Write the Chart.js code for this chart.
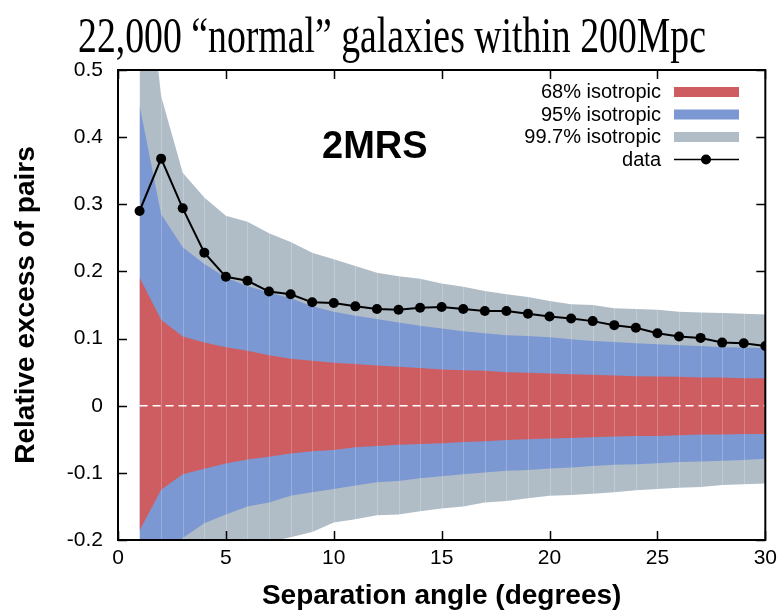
<!DOCTYPE html>
<html>
<head>
<meta charset="utf-8">
<script src="https://cdn.jsdelivr.net/npm/chart.js@4.4.1/dist/chart.umd.min.js"></script>
<style>
  html, body { margin: 0; padding: 0; background: #fff; }
</style>
</head>
<body>
<canvas id="pairChart" width="783" height="613"></canvas>
<script>
// Separation angles (degrees)
const angles = [1, 2, 3, 4, 5, 6, 7, 8, 9, 10, 11, 12, 13, 14, 15, 16, 17, 18, 19, 20,
                21, 22, 23, 24, 25, 26, 27, 28, 29, 30];

// Measured relative excess of pairs (2MRS)
const pairExcess = [0.290, 0.368, 0.294, 0.228, 0.192, 0.186, 0.170, 0.166, 0.154, 0.153,
                    0.148, 0.144, 0.143, 0.146, 0.147, 0.144, 0.141, 0.141, 0.137, 0.133,
                    0.130, 0.126, 0.120, 0.116, 0.108, 0.103, 0.101, 0.094, 0.093, 0.089];

// Isotropic envelopes
const iso68Upper = [0.191, 0.128, 0.103, 0.094, 0.087, 0.082, 0.075, 0.070, 0.067, 0.064,
                    0.062, 0.060, 0.058, 0.056, 0.054, 0.053, 0.052, 0.050, 0.049, 0.048,
                    0.047, 0.046, 0.045, 0.044, 0.0435, 0.043, 0.042, 0.042, 0.041, 0.041];
const iso68Lower = [-0.186, -0.125, -0.102, -0.094, -0.086, -0.080, -0.076, -0.071, -0.068, -0.066,
                    -0.062, -0.060, -0.058, -0.057, -0.056, -0.054, -0.053, -0.051, -0.050, -0.049,
                    -0.048, -0.047, -0.046, -0.045, -0.045, -0.044, -0.043, -0.043, -0.042, -0.042];
const iso95Upper = [0.447, 0.285, 0.236, 0.211, 0.191, 0.178, 0.169, 0.160, 0.148, 0.140,
                    0.134, 0.129, 0.124, 0.119, 0.115, 0.111, 0.108, 0.105, 0.104, 0.102,
                    0.099, 0.0965, 0.095, 0.093, 0.0916, 0.090, 0.089, 0.087, 0.0867, 0.0857];
const iso95Lower = [-0.45, -0.28, -0.197, -0.175, -0.162, -0.150, -0.144, -0.134, -0.129, -0.124,
                    -0.119, -0.114, -0.112, -0.108, -0.105, -0.102, -0.0995, -0.097, -0.0956, -0.0935,
                    -0.092, -0.0897, -0.088, -0.087, -0.0857, -0.084, -0.083, -0.082, -0.081, -0.079];
const iso997Upper = [0.75, 0.461, 0.347, 0.310, 0.283, 0.274, 0.257, 0.244, 0.228, 0.218,
                     0.208, 0.198, 0.193, 0.189, 0.182, 0.177, 0.171, 0.166, 0.162, 0.156,
                     0.151, 0.150, 0.145, 0.144, 0.143, 0.140, 0.139, 0.138, 0.137, 0.136];
const iso997Lower = [-0.75, -0.46, -0.35, -0.30, -0.262, -0.232, -0.203, -0.196, -0.188, -0.174,
                     -0.169, -0.163, -0.162, -0.157, -0.153, -0.150, -0.144, -0.142, -0.138, -0.134,
                     -0.133, -0.131, -0.129, -0.126, -0.124, -0.122, -0.121, -0.118, -0.117, -0.116];

// Axis ticks
const xTickValues = [0, 5, 10, 15, 20, 25, 30];
const yTickValues = [-0.2, -0.1, 0, 0.1, 0.2, 0.3, 0.4, 0.5];

const legendLabels = ['68% isotropic', '95% isotropic', '99.7% isotropic', 'data'];

const RED = 'rgb(206, 93, 97)';
const BLUE = 'rgb(123, 152, 210)';
const GRAY = 'rgb(176, 189, 199)';

function toPoints(values) {
    return angles.map((a, i) => ({ x: a, y: values[i] }));
}

function bandEdge(values, color, order, fill) {
    return {
        data: toPoints(values),
        borderWidth: 0,
        borderColor: 'transparent',
        backgroundColor: color,
        pointRadius: 0,
        tension: 0,
        fill: fill,
        order: order
    };
}

// Frame, inward ticks, thin column lines, legend and labels
const decorPlugin = {
    id: 'decor',
    beforeDatasetsDraw(chart) {
        const { ctx, chartArea: a, scales: { y } } = chart;
        ctx.save();
        ctx.strokeStyle = '#000';
        ctx.lineWidth = 1.5;
        yTickValues.forEach(v => {
            const py = Math.round(y.getPixelForValue(v)) + 0.5;
            ctx.beginPath();
            ctx.moveTo(a.left, py); ctx.lineTo(a.left + 9, py);
            ctx.moveTo(a.right, py); ctx.lineTo(a.right - 9, py);
            ctx.stroke();
        });
        ctx.restore();
    },
    beforeDatasetDraw(chart, args) {
        // faint column lines over the bands, below the zero line and data
        if (args.index !== 1) return;
        const { ctx, chartArea: a, scales: { x } } = chart;
        ctx.save();
        ctx.strokeStyle = 'rgba(255, 255, 255, 0.22)';
        ctx.lineWidth = 1;
        angles.slice(1, -1).forEach(v => {
            const px = Math.round(x.getPixelForValue(v)) + 0.5;
            ctx.beginPath();
            ctx.moveTo(px, a.top);
            ctx.lineTo(px, a.bottom);
            ctx.stroke();
        });
        ctx.restore();
    },
    afterDatasetsDraw(chart) {
        const { ctx, chartArea: a, scales: { x } } = chart;
        ctx.save();
        ctx.strokeStyle = '#000';
        ctx.lineWidth = 1.5;
        xTickValues.forEach(v => {
            const px = Math.round(x.getPixelForValue(v)) + 0.5;
            ctx.beginPath();
            ctx.moveTo(px, a.bottom); ctx.lineTo(px, a.bottom - 9);
            ctx.moveTo(px, a.top); ctx.lineTo(px, a.top + 9);
            ctx.stroke();
        });
        ctx.lineWidth = 2;
        ctx.strokeRect(a.left, a.top, a.right - a.left, a.bottom - a.top);
        ctx.restore();
    },
    afterDraw(chart) {
        const ctx = chart.ctx;
        ctx.save();

        // page title, narrowed to the slide width
        const title = '22,000 \u201Cnormal\u201D galaxies within 200Mpc';
        ctx.font = '50px "Liberation Serif", "Times New Roman", serif';
        const w = ctx.measureText(title).width;
        ctx.translate(392, 52);
        ctx.scale(628 / w, 1);
        ctx.fillStyle = '#000';
        ctx.textAlign = 'center';
        ctx.textBaseline = 'alphabetic';
        ctx.fillText(title, 0, 0);
        ctx.setTransform(1, 0, 0, 1, 0, 0);

        // survey label
        ctx.font = 'bold 38px "Liberation Sans", Arial, sans-serif';
        ctx.textAlign = 'left';
        ctx.fillText('2MRS', 322, 158);

        // legend
        const baselines = [98, 120.5, 143, 165.5];
        const swatch = [RED, BLUE, GRAY];
        ctx.font = '20px "Liberation Sans", Arial, sans-serif';
        ctx.textAlign = 'right';
        legendLabels.forEach((label, i) => {
            const b = baselines[i];
            ctx.fillStyle = '#000';
            ctx.fillText(label, 661, b);
            const cy = b - 6;
            if (i < 3) {
                ctx.fillStyle = swatch[i];
                ctx.fillRect(674, cy - 5, 65, 10);
            } else {
                ctx.strokeStyle = '#000';
                ctx.lineWidth = 1.5;
                ctx.beginPath();
                ctx.moveTo(674, cy); ctx.lineTo(739, cy);
                ctx.stroke();
                ctx.beginPath();
                ctx.arc(706, cy, 5, 0, Math.PI * 2);
                ctx.fill();
            }
        });
        ctx.restore();
    }
};

const tickFont = { family: '"Liberation Sans", Arial, sans-serif', size: 21 };
const titleFont = { family: '"Liberation Sans", Arial, sans-serif', size: 28, weight: 'bold' };

new Chart(document.getElementById('pairChart'), {
    type: 'line',
    data: {
        datasets: [
            {
                data: toPoints(pairExcess),
                borderColor: '#000',
                borderWidth: 2,
                pointBackgroundColor: '#000',
                pointBorderWidth: 0,
                pointRadius: 5,
                tension: 0,
                fill: false,
                order: 0
            },
            {
                data: angles.map(a => ({ x: a, y: 0 })),
                borderColor: '#fff',
                borderWidth: 1.5,
                borderDash: [8, 5],
                pointRadius: 0,
                fill: false,
                order: 1
            },
            bandEdge(iso68Upper, RED, 2, '+1'),
            bandEdge(iso68Lower, RED, 3, false),
            bandEdge(iso95Upper, BLUE, 4, '+1'),
            bandEdge(iso95Lower, BLUE, 5, false),
            bandEdge(iso997Upper, GRAY, 6, '+1'),
            bandEdge(iso997Lower, GRAY, 7, false)
        ]
    },
    options: {
        responsive: false,
        animation: false,
        layout: { padding: { top: 70, right: 17, left: 0, bottom: 0 } },
        plugins: {
            legend: { display: false },
            tooltip: { enabled: false },
            filler: { propagate: false }
        },
        scales: {
            x: {
                type: 'linear',
                min: 0,
                max: 30,
                afterBuildTicks: s => { s.ticks = xTickValues.map(v => ({ value: v })); },
                afterFit: s => { s.height = 73; },
                grid: { display: false, drawTicks: false },
                border: { display: false },
                ticks: { color: '#000', font: tickFont, padding: 6, maxRotation: 0 },
                title: { display: true, text: 'Separation angle (degrees)', color: '#000', font: titleFont, padding: 0 }
            },
            y: {
                type: 'linear',
                min: -0.2,
                max: 0.5,
                afterBuildTicks: s => { s.ticks = yTickValues.map(v => ({ value: v })); },
                afterFit: s => { s.width = 118; },
                grid: { display: false, drawTicks: false },
                border: { display: false },
                ticks: { color: '#000', font: tickFont, padding: 15 },
                title: { display: true, text: 'Relative excess of pairs', color: '#000', font: titleFont, padding: { top: 9, bottom: 0 } }
            }
        }
    },
    plugins: [decorPlugin]
});
</script>
</body>
</html>
